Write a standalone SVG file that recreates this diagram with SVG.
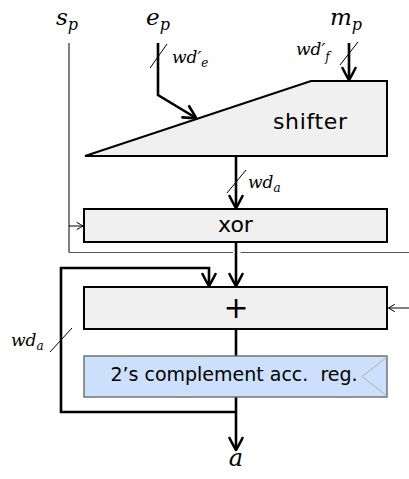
<svg xmlns="http://www.w3.org/2000/svg" width="409" height="479" viewBox="0 0 409 479">
<style>
.box{fill:#f0f0f0;stroke:#000;stroke-width:2}
.reg{fill:#cce0fc;stroke:#6a6a6a;stroke-width:1.4}
.clk{fill:none;stroke:#b0b0b0;stroke-width:1}
.thick{fill:none;stroke:#000;stroke-width:2.6;stroke-linejoin:miter}
.thin{fill:none;stroke:#000;stroke-width:1}
.gray{fill:none;stroke:#555;stroke-width:1}
.slash{fill:none;stroke:#000;stroke-width:1}
.sans{font-family:"DejaVu Sans",sans-serif;fill:#000}
.math{font-family:"DejaVu Serif",serif;font-style:italic;fill:#000}
</style>
<defs>
<marker id="ah" markerUnits="userSpaceOnUse" viewBox="-14 -8 16 16" markerWidth="16" markerHeight="16" refX="0" refY="0" orient="auto" overflow="visible">
<path d="M -12,-6.5 Q -4,-2.5 0,0 Q -4,2.5 -12,6.5" fill="none" stroke="#000" stroke-width="2.6" stroke-linecap="round" stroke-linejoin="round"/>
</marker>
<marker id="ahs" markerUnits="userSpaceOnUse" viewBox="-8 -5 10 10" markerWidth="10" markerHeight="10" refX="0" refY="0" orient="auto" overflow="visible">
<path d="M -6,-3.5 Q -2,-1.2 0,0 Q -2,1.2 -6,3.5" fill="none" stroke="#000" stroke-width="1" stroke-linecap="round"/>
</marker>
</defs>

<g id="connectors">
<path class="thick" d="M158,43 V95 L196,118" marker-end="url(#ah)"/>
<path class="thick" d="M349,43 V80" marker-end="url(#ah)"/>
<path class="thick" d="M236,156 V208" marker-end="url(#ah)"/>
<path class="thick" d="M236,242 V286" marker-end="url(#ah)"/>
<path class="thick" d="M236,329 V356"/>
<path class="thick" d="M236,397 V450" marker-end="url(#ah)"/>
<path class="thick" d="M236,412 H61 V268 H209 V286" marker-end="url(#ah)"/>
<path class="thin" d="M69,43 V252.5"/>
<path class="gray" d="M69,252.5 H233 M240.5,252.5 H409"/>
<path class="thin" d="M69,226 H83" marker-end="url(#ahs)"/>
<path class="thin" d="M409,308 H388.5" marker-end="url(#ahs)"/>
<line class="slash" x1="150" y1="68" x2="167" y2="44"/>
<line class="slash" x1="340" y1="65" x2="358" y2="42"/>
<line class="slash" x1="227" y1="193" x2="246" y2="170"/>
<line class="slash" x1="50" y1="352" x2="72" y2="328"/>
</g>

<g id="labels">
<text class="math" x="56" y="25" font-size="23">s<tspan font-size="16" dy="5">p</tspan></text>
<text class="math" x="146" y="25" font-size="23">e<tspan font-size="16" dy="5">p</tspan></text>
<text class="math" x="330" y="25" font-size="23">m<tspan font-size="16" dy="5">p</tspan></text>
<text class="math" x="172" y="63" font-size="17">wd′<tspan font-size="12" dy="4">e</tspan></text>
<text class="math" x="296" y="55" font-size="17">wd′<tspan font-size="12" dy="6">f</tspan></text>
<text class="math" x="248" y="188" font-size="17">wd<tspan font-size="12" dy="4">a</tspan></text>
<text class="math" x="11" y="346" font-size="17">wd<tspan font-size="12" dy="4">a</tspan></text>
<text class="math" x="236" y="466" font-size="24" text-anchor="middle">a</text>
</g>

<g id="shifter">
<polygon class="box" points="85,156 311,81 387,81 387,156"/>
<text class="sans" x="310" y="129" font-size="22" text-anchor="middle" textLength="74">shifter</text>
</g>

<g id="xor">
<rect class="box" x="84" y="209" width="303" height="33"/>
<text class="sans" x="235.5" y="232" font-size="22" text-anchor="middle">xor</text>
</g>

<g id="adder">
<rect class="box" x="84" y="287" width="303" height="42"/>
<text class="sans" x="236" y="318" font-size="30" text-anchor="middle">+</text>
</g>

<g id="accreg">
<rect class="reg" x="84" y="356" width="303" height="41"/>
<polyline class="clk" points="387,357 362,376.5 387,396"/>
<text class="sans" x="234" y="381" font-size="19" text-anchor="middle" xml:space="preserve">2’s complement acc.  reg.</text>
</g>
</svg>
